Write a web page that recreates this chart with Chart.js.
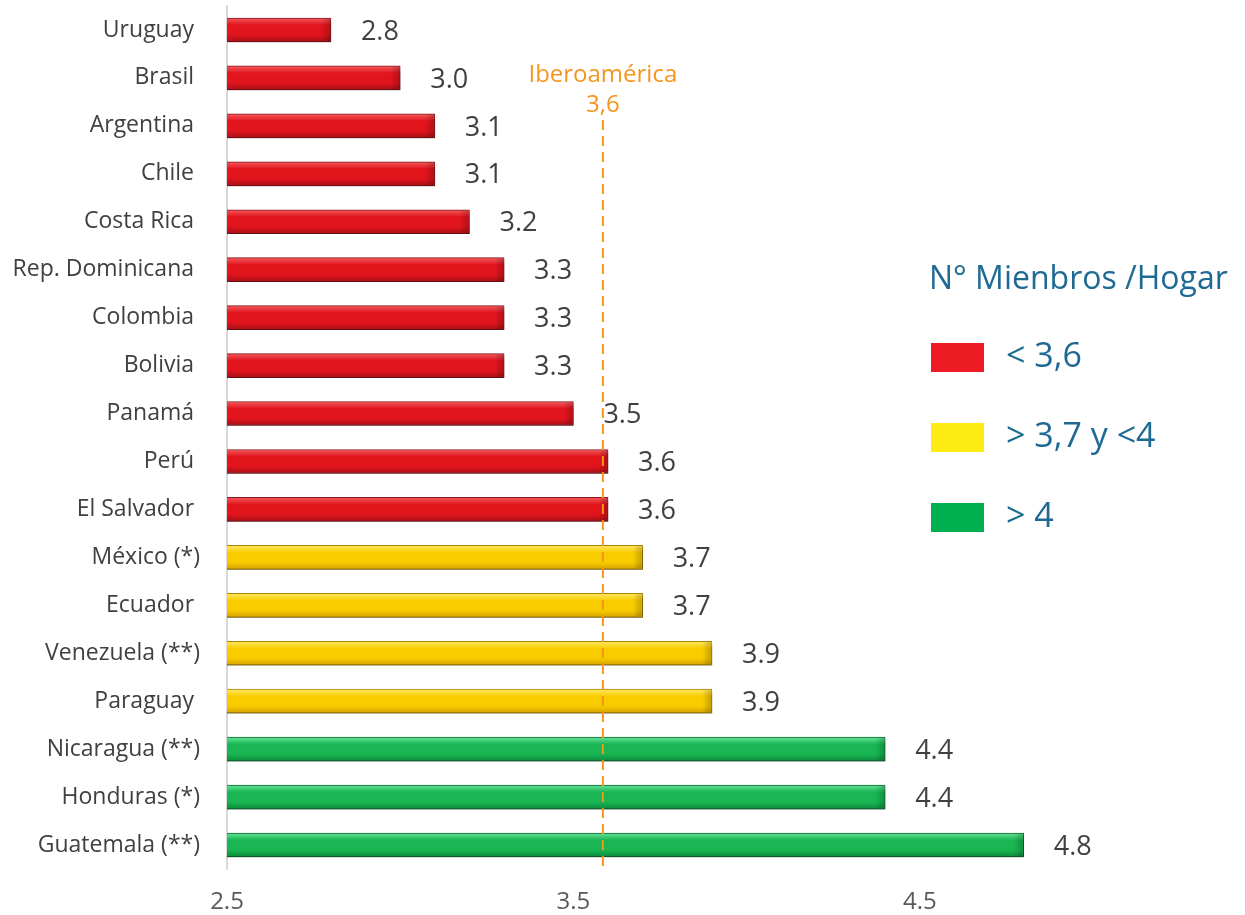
<!DOCTYPE html>
<html><head><meta charset="utf-8">
<script src="https://cdn.jsdelivr.net/npm/chart.js@4"></script>
<style>html,body{margin:0;padding:0;background:#fff}#wrap{width:1245px;height:915px}</style>
</head><body><div id="wrap"><canvas id="c" width="1245" height="915"></canvas></div>
<script>
const categories = ['Uruguay ','Brasil ','Argentina ','Chile ','Costa Rica ','Rep. Dominicana ','Colombia ','Bolivia ','Panamá ','Perú ','El Salvador ','México (*)','Ecuador ','Venezuela (**)','Paraguay ','Nicaragua (**)','Honduras (*)','Guatemala (**)'];
const values = [2.8,3.0,3.1,3.1,3.2,3.3,3.3,3.3,3.5,3.6,3.6,3.7,3.7,3.9,3.9,4.4,4.4,4.8];
const groups = ['low','low','low','low','low','low','low','low','low','low','low','mid','mid','mid','mid','high','high','high'];
const xTicks = [2.5,3.5,4.5];
const iberoValue = 3.585;
const iberoLabel = ['Iberoamérica','3,6'];
const legendTitle = 'N° Mienbros /Hogar';
const legendGroups = ['low','mid','high'];
const legendLabels = ['< 3,6','> 3,7 y <4','> 4'];

const palette = {
  low:  {top:'#F45A5E', mid:'#E2141C', bot:'#A80F18', border:'#8A1A1D', legend:'#ED1C24'},
  mid:  {top:'#FFE866', mid:'#F9CC00', bot:'#D6A000', border:'#A98500', legend:'#FFEB14'},
  high: {top:'#66E397', mid:'#19B653', bot:'#0C8A3A', border:'#0A6A2E', legend:'#00B050'}
};
const FONT = '"Open Sans", "DejaVu Sans", sans-serif';
const BAR_T = 24;

function barFill(ctx) {
  const chart = ctx.chart;
  const ys = chart.scales.y;
  const p = palette[groups[ctx.dataIndex]];
  if (!ys || ys.top === undefined) return p.mid;
  const yc = ys.getPixelForValue(ctx.dataIndex);
  const g = chart.ctx.createLinearGradient(0, yc - BAR_T/2, 0, yc + BAR_T/2);
  g.addColorStop(0, p.top);
  g.addColorStop(0.3, p.mid);
  g.addColorStop(0.7, p.mid);
  g.addColorStop(1, p.bot);
  return g;
}

const shadowPlugin = {
  id: 'shadow',
  beforeDatasetDraw(chart) {
    const c = chart.ctx; c.save();
    c.shadowColor = 'rgba(0,0,0,0.4)'; c.shadowBlur = 5; c.shadowOffsetX = 2; c.shadowOffsetY = 4;
  },
  afterDatasetDraw(chart) { chart.ctx.restore(); }
};

const decoPlugin = {
  id: 'deco',
  afterDatasetsDraw(chart) {
    const c = chart.ctx;
    const meta = chart.getDatasetMeta(0);
    const xs = chart.scales.x;
    meta.data.forEach((el) => {
      const y0 = el.y - el.height/2, y1 = el.y + el.height/2, x = el.x;
      c.save();
      const g = c.createLinearGradient(x - 10, 0, x, 0);
      g.addColorStop(0, 'rgba(0,0,0,0)');
      g.addColorStop(1, 'rgba(0,0,0,0.22)');
      c.fillStyle = g;
      c.beginPath();
      c.moveTo(x - 12, y0 + 1); c.lineTo(x - 1, y0 + 1); c.lineTo(x - 1, y1 - 1); c.lineTo(x - 8, y1 - 1);
      c.closePath(); c.fill();
      c.restore();
    });
    c.save();
    c.font = '27px ' + FONT;
    c.fillStyle = '#404040';
    c.textAlign = 'left'; c.textBaseline = 'middle';
    meta.data.forEach((el, i) => {
      c.fillText(values[i].toFixed(1), el.x + 30, el.y + 2);
    });
    c.restore();
    const xp = xs.getPixelForValue(iberoValue);
    c.save();
    c.strokeStyle = '#F7941E'; c.lineWidth = 2; c.setLineDash([10, 6]);
    c.beginPath(); c.moveTo(xp, 120); c.lineTo(xp, chart.chartArea.bottom - 3); c.stroke();
    c.restore();
    c.save();
    c.font = '24px ' + FONT; c.fillStyle = '#F7941E';
    c.textAlign = 'center'; c.textBaseline = 'middle';
    c.fillText(iberoLabel[0], xp, 75);
    c.fillText(iberoLabel[1], xp, 105);
    c.restore();
  },
  afterDraw(chart) {
    const c = chart.ctx;
    c.save();
    c.fillStyle = '#1E6A94';
    c.textAlign = 'left'; c.textBaseline = 'middle';
    c.font = '32px ' + FONT;
    c.fillText(legendTitle, 929, 280);
    c.font = '34px ' + FONT;
    legendGroups.forEach((g, i) => {
      const yy = 343 + i * 80;
      c.fillStyle = palette[g].legend;
      c.fillRect(931, yy, 53, 29);
      c.fillStyle = '#1E6A94';
      c.fillText(legendLabels[i], 1006, yy + 14);
    });
    c.restore();
  }
};

new Chart(document.getElementById('c'), {
  type: 'bar',
  data: {
    labels: categories,
    datasets: [{
      data: values,
      backgroundColor: barFill,
      borderColor: (ctx) => palette[groups[ctx.dataIndex]].border,
      borderWidth: 1,
      borderSkipped: false,
      barThickness: BAR_T
    }]
  },
  plugins: [shadowPlugin, decoPlugin],
  options: {
    indexAxis: 'y',
    responsive: false,
    animation: false,
    layout: {padding: {top: 6, right: 152, left: 0, bottom: 0}},
    plugins: {legend: {display: false}, tooltip: {enabled: false}},
    scales: {
      x: {
        min: 2.5, max: 5,
        grid: {display: false, drawTicks: false},
        border: {display: false},
        afterBuildTicks: (s) => { s.ticks = xTicks.map(v => ({value: v})); },
        afterFit: (s) => { s.height = 46; s.paddingLeft = 0; s.paddingRight = 0; s.paddingTop = 0; s.paddingBottom = 0; },
        ticks: {padding: 19, color: '#595959', font: {family: FONT, size: 24}, callback: (v) => Number(v).toFixed(1)}
      },
      y: {
        grid: {display: false, drawTicks: false},
        border: {display: true, color: '#D9D9D9', width: 2},
        afterFit: (s) => { s.width = 227; s.paddingTop = 0; s.paddingBottom = 0; s.paddingLeft = 0; s.paddingRight = 0; },
        ticks: {padding: 27, color: '#404040', font: {family: FONT, size: 23}, autoSkip: false}
      }
    }
  }
});
</script></body></html>
